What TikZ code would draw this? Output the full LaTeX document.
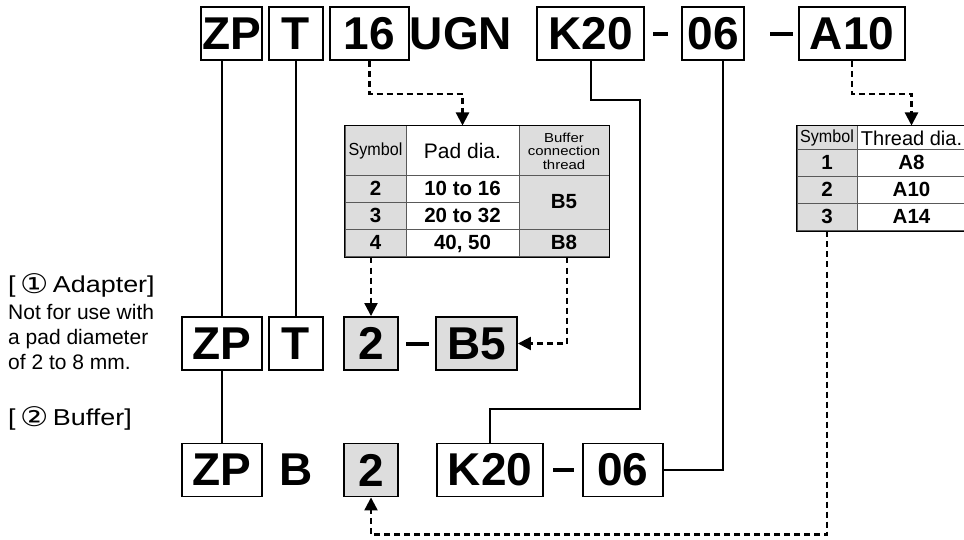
\documentclass[tikz,border=0pt]{standalone}
\usepackage{fontspec}
\setmainfont{Liberation Sans}
\newfontfamily\symfont{DejaVu Sans}
\usepackage{graphicx}
\usetikzlibrary{arrows.meta}
\definecolor{cellgray}{RGB}{221,221,221}
\tikzset{
  codebox/.style={draw, line width=1.9pt, minimum height=53pt, inner sep=0pt,
    font=\fontsize{46}{46}\selectfont\bfseries},
  codegray/.style={codebox, fill=cellgray},
  codetext/.style={inner sep=0pt, font=\fontsize{46}{46}\selectfont\bfseries},
  dashbar/.style={fill, inner sep=0pt, minimum height=4pt},
  cell/.style={draw=black!65, line width=1pt, inner sep=0pt, align=center},
  graycell/.style={cell, fill=cellgray},
  valfont/.style={font=\fontsize{20.5}{22}\selectfont\bfseries, text height=14.5pt, text depth=3pt},
  wire/.style={line width=2pt},
  dashwire/.style={line width=2.2pt, dash pattern=on 6pt off 4pt,
    -{Triangle[length=13pt,width=13pt]}},
  note/.style={inner sep=0pt, anchor=west, align=left}
}
\begin{document}
\begin{tikzpicture}[x=1pt, y=-1pt]
  \useasboundingbox (0,0) rectangle (964,540);

  % Top row: full part number
  \node[codebox, minimum width=61pt]  (tZP)  at (231.5,33.5) {ZP};
  \node[codebox, minimum width=54pt]  (tT)   at (296,33.5)   {T};
  \node[codebox, minimum width=79pt]  (t16)  at (369.5,33.5) {16};
  \node[codetext]                     (tUGN) at (461,33.5)   {UGN};
  \node[codebox, minimum width=107pt] (tK)   at (590.5,33.5) {K20};
  \node[dashbar, minimum width=15pt]  (td1)  at (660.5,34)   {};
  \node[codebox, minimum width=62pt]  (t06)  at (713,33.5)   {06};
  \node[dashbar, minimum width=23pt]  (td2)  at (781.5,34)   {};
  \node[codebox, minimum width=106pt] (tA)   at (852,33.5)   {A10};

  % Pad table
  \node[graycell, minimum width=61pt, minimum height=50pt,
    font=\fontsize{17.5}{19}\selectfont] (hSym) at (375.5,151) {\scalebox{0.92}[1]{Symbol}};
  \node[cell, minimum width=113pt, minimum height=50pt,
    font=\fontsize{21}{23}\selectfont] (hPad) at (462.5,151) {Pad dia.};
  \node[graycell, minimum width=90pt, minimum height=50pt,
    font=\fontsize{13}{13.5}\selectfont] (hBuf) at (564,151)
    {\scalebox{1.15}[1]{Buffer}\\\scalebox{1.15}[1]{connection}\\\scalebox{1.15}[1]{thread}};
  \foreach \y/\s/\p in {189.5/2/10 to 16, 216.5/3/20 to 32, 243.5/4/{40, 50}} {
    \node[graycell, valfont, minimum width=61pt, minimum height=27pt] (sym\s) at (375.5,\y) {\s};
    \node[cell, valfont, minimum width=113pt, minimum height=27pt] (pad\s) at (462.5,\y) {\p};
  }
  \node[graycell, valfont, minimum width=90pt, minimum height=54pt] (bufB5) at (564,203) {B5};
  \node[graycell, valfont, minimum width=90pt, minimum height=27pt] (bufB8) at (564,243.5) {B8};
  \draw[line width=1.6pt] (hSym.north west) rectangle (bufB8.south east);

  % Thread table
  \node[graycell, minimum width=60pt, minimum height=24pt,
    font=\fontsize{17.5}{19}\selectfont] (hSymB) at (827,138) {\scalebox{0.92}[1]{Symbol}};
  \node[cell, minimum width=109pt, minimum height=24pt,
    font=\fontsize{20}{22}\selectfont] (hThr) at (911.5,138) {Thread dia.};
  \foreach \y/\s/\a in {163.5/1/A8, 190.5/2/A10, 217.5/3/A14} {
    \node[graycell, valfont, minimum width=60pt, minimum height=27pt] (row\s) at (827,\y) {\s};
    \node[cell, valfont, minimum width=109pt, minimum height=27pt] (thr\s) at (911.5,\y) {\a};
  }
  \draw[line width=1.6pt] (hSymB.north west) rectangle (thr3.south east);

  % Middle row: adapter
  \node[codebox, minimum width=80pt]  (mZP) at (222,343.5)   {ZP};
  \node[codebox, minimum width=54pt]  (mT)  at (296,343.5)   {T};
  \node[codegray, minimum width=54pt] (m2)  at (371,343.5)   {2};
  \node[dashbar, minimum width=23pt]  (md)  at (417.5,343.5) {};
  \node[codegray, minimum width=81pt] (mB5) at (476.5,343.5) {B5};

  % Bottom row: buffer
  \node[codebox, minimum width=80pt]  (bZP) at (222,470)   {ZP};
  \node[codetext]                     (bB)  at (296,470)   {B};
  \node[codegray, minimum width=54pt] (b2)  at (371,470)   {2};
  \node[codebox, minimum width=106pt] (bK)  at (490,470)   {K20};
  \node[dashbar, minimum width=21pt]  (bd)  at (563.5,470) {};
  \node[codebox, minimum width=80pt]  (b06) at (623,470)   {06};

  % Side notes
  \node[note, font=\fontsize{23}{25}\selectfont] (nAdapter) at (8,285)
    {\scalebox{1.17}[1]{[\,{\symfont\fontsize{27}{27}\selectfont\raisebox{-1pt}{①}}\,Adapter]}};
  \node[note, anchor=north west, font=\fontsize{21}{25}\selectfont] (nLimit) at (8,304)
    {Not for use with\\a pad diameter\\of 2 to 8 mm.};
  \node[note, font=\fontsize{23}{25}\selectfont] (nBuffer) at (8,418)
    {\scalebox{1.17}[1]{[\,{\symfont\fontsize{27}{27}\selectfont\raisebox{-1pt}{②}}\,Buffer]}};

  % Solid connectors
  \draw[wire] (mZP.north |- tZP.south) -- (mZP.north);
  \draw[wire] (mZP.south) -- (bZP.north);
  \draw[wire] (tT.south) -- (mT.north);
  \draw[wire] (tK.south) |- (640,100) -- (640,409) -| (bK.north);
  \draw[wire] ([xshift=10pt]t06.south) |- (b06.east);

  % Dashed lookups
  \draw[dashwire] (t16.south) -- ++(0,33) -| (hPad.north);
  \draw[dashwire] (tA.south) -- ++(0,33) -| (hThr.north);
  \draw[dashwire] (m2.north |- sym4.south) -- (m2.north);
  \draw[dashwire] ([xshift=3pt]bufB8.south) |- (mB5.east);
  \draw[dashwire] (row3.south) -- ++(0,303) -| (b2.south);
\end{tikzpicture}
\end{document}
